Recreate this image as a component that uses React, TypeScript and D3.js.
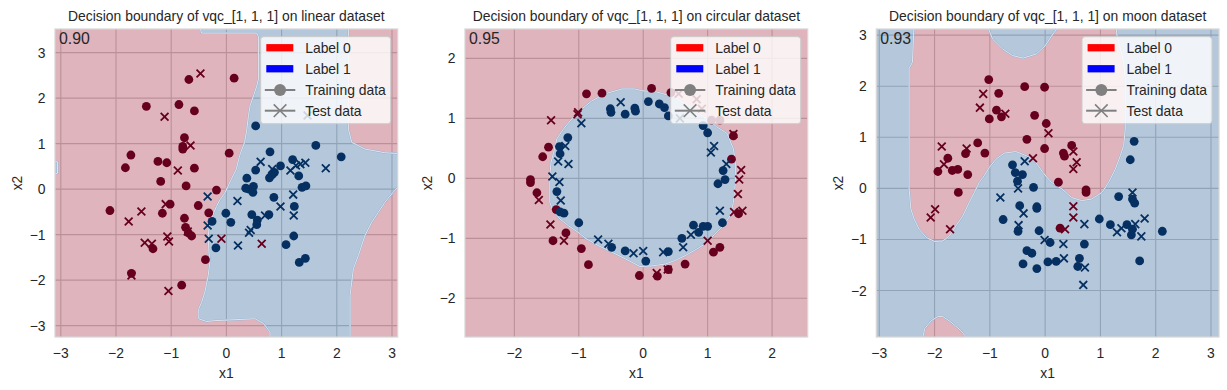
import React from "react";
import * as d3 from "d3";

type Pt = [number, number];

// ---------- linear dataset ----------
const linearTrain0: Pt[] = [
  [-0.68, 2.41], [0.14, 2.44], [-1.45, 1.82], [-0.86, 1.86], [-0.58, 1.72], [-0.76, 1.13],
  [-0.79, 0.94], [-0.79, 0.88], [0.05, 0.79], [-1.73, 0.75], [-1.83, 0.47], [-1.24, 0.61],
  [-1.08, 0.58], [-0.58, 0.46], [-1.19, 0.17], [-0.73, 0.07], [-0.18, -0.02], [-1.02, -0.33],
  [-1.16, -0.53], [-0.51, -0.36], [-0.32, -0.52], [-2.11, -0.47], [-0.76, -0.64], [-0.74, -0.84],
  [-0.69, -0.96], [-0.63, -1.03], [-1.33, -1.31], [-0.38, -1.55], [-1.72, -1.85], [-0.81, -2.11],
];
const linearTest0: Pt[] = [
  [-0.47, 2.54], [-1.12, 1.59], [-0.65, 0.96], [-0.88, 0.41], [-1.1, -0.33], [-1.54, -0.49],
  [-1.77, -0.71], [-1.48, -1.18], [-1.35, -1.2], [-1.07, -1.04], [-1.04, -1.15], [-0.7, -0.93],
  [-1.72, -1.9], [-1.05, -2.24], [-0.09, -1.09], [0.64, -1.2],
];
const linearTrain1: Pt[] = [
  [0.53, 1.39], [1.62, 0.96], [2.08, 0.71], [0.79, 0.82], [1.2, 0.65], [0.98, 0.51],
  [0.53, 0.42], [0.87, 0.37], [0.83, 0.32], [0.78, 0.25], [1.31, 0.29], [0.37, 0.24],
  [0.35, 0.02], [0.41, 0.0], [0.49, 0.06], [0.48, -0.07], [1.37, 0.04], [1.44, 0.07],
  [0.86, -0.18], [1.23, -0.38], [-0.01, -0.53], [0.08, -0.73], [0.46, -0.56], [0.56, -0.68],
  [0.55, -0.78], [0.77, -0.56], [1.22, -1.03], [1.08, -1.22], [1.32, -1.61], [1.43, -1.52],
  [-0.26, -0.71], [-0.19, -1.29],
];
const linearTest1: Pt[] = [
  [0.62, 0.6], [1.16, 0.41], [1.26, 0.52], [1.34, 0.55], [1.43, 0.58], [1.8, 0.46],
  [0.83, 0.44], [0.2, -0.26], [0.98, -0.38], [1.21, -0.12], [1.22, -0.58], [0.7, -0.58],
  [0.41, -0.96], [0.44, -0.9], [0.21, -1.24], [1.47, 1.62], [-0.34, -0.16], [-0.34, -0.8],
  [-0.32, -1.09],
];
// regions predicted as label 1
const linearRegions: Pt[][] = [
  [
    [-0.49, 3.6], [-0.45, 3.43], [0.55, 3.43], [0.58, 3.35], [0.58, 2.42], [0.55, 2.27],
    [0.49, 2.05], [0.43, 1.84], [0.4, 1.62], [0.37, 1.32], [0.33, 1.03], [0.24, 0.74],
    [0.18, 0.44], [0.09, 0.22], [-0.03, -0.09], [-0.12, -0.24], [-0.18, -0.38], [-0.24, -0.55],
    [-0.3, -0.73], [-0.33, -1.02], [-0.32, -1.31], [-0.3, -1.61], [-0.33, -1.9], [-0.39, -2.26],
    [-0.45, -2.49], [-0.5, -2.63], [-0.5, -2.85], [-0.36, -2.91], [-0.21, -2.89], [0.52, -2.85],
    [0.67, -2.95], [0.79, -3.14], [0.79, -3.4], [2.24, -3.4], [2.24, -2.34], [2.3, -1.75],
    [2.39, -1.46], [2.51, -1.02], [2.63, -0.73], [2.75, -0.51], [2.87, -0.29], [3.02, -0.07],
    [3.14, 0.09], [3.3, 0.1], [3.3, 0.77], [2.87, 0.8], [2.51, 0.88], [2.27, 1.03],
    [2.21, 1.32], [2.21, 3.6],
  ],
  [[-3.3, 0.66], [-3.06, 0.6], [-3.06, 0.35], [-3.3, 0.29]],
];

// ---------- circular dataset ----------
const circTrain0: Pt[] = [
  [-0.88, 1.41], [-0.64, 1.42], [0.13, 1.5], [0.43, 1.43], [-1.47, 0.52], [-1.56, 0.36],
  [-1.75, -0.02], [-1.75, -0.07], [-1.65, -0.24], [-1.35, -0.52], [-1.2, -0.91], [-1.4, -1.04],
  [-0.96, -1.17], [-0.85, -1.44], [-0.06, -1.62], [0.22, -1.63], [0.39, -1.52], [0.65, -1.43],
  [1.09, -1.23], [1.19, -1.15], [1.48, -0.59], [1.37, 0.32], [1.4, 0.71], [1.06, 0.97], [1.19, 0.97],
];
const circTest0: Pt[] = [
  [-1.01, 1.1], [-1.02, 1.07], [-1.43, 0.97], [-1.62, -0.36], [-1.44, -0.77], [-1.23, -1.04],
  [0.21, -1.58], [0.38, -1.52], [1.0, -1.04], [1.4, 0.74], [1.52, 0.14], [1.49, -0.02],
  [1.47, -0.26], [1.41, -0.56], [1.54, -0.54], [0.55, 1.41], [0.83, 1.32], [0.91, 1.16],
];
const circTrain1: Pt[] = [
  [-0.51, 1.16], [-0.5, 1.1], [-0.28, 1.07], [-0.13, 1.17], [-0.12, 1.12], [0.08, 1.28],
  [0.25, 1.24], [0.33, 1.18], [0.39, 1.04], [0.93, 0.88], [1.0, 0.76], [-1.17, 0.68],
  [-1.3, 0.53], [-1.29, 0.41], [-1.34, -0.22], [-1.23, -0.58], [-1.29, -0.56], [-1.0, -0.74],
  [-0.49, -1.15], [-0.28, -1.21], [0.04, -1.38], [0.39, -1.22], [0.6, -1.0], [0.78, -0.78],
  [0.86, -0.9], [0.93, -0.8], [1.0, -0.8], [1.23, -0.74], [1.16, -0.09], [1.27, -0.02], [1.24, 0.13],
];
const circTest1: Pt[] = [
  [-0.35, 1.27], [-0.96, 0.92], [-1.21, 0.54], [-1.32, 0.28], [-1.16, 0.24], [-1.41, 0.03],
  [-1.3, -0.06], [-1.28, -0.37], [-0.7, -1.02], [-0.54, -1.09], [-0.15, -1.25], [0.0, -1.21],
  [0.31, -1.23], [0.62, -1.15], [0.74, -0.94], [1.19, -0.54], [1.29, 0.24], [1.1, 0.54],
  [1.05, 0.43], [0.57, 1.0],
];
const circRegions: Pt[][] = [
  [
    [-0.33, 1.49], [-0.13, 1.49], [-0.02, 1.46], [0.21, 1.44], [0.47, 1.36], [0.73, 1.19],
    [0.93, 1.03], [1.14, 0.86], [1.3, 0.75], [1.4, 0.49], [1.43, 0.27], [1.43, -0.07],
    [1.4, -0.4], [1.35, -0.62], [1.24, -0.79], [1.11, -0.93], [0.99, -1.07], [0.83, -1.18],
    [0.65, -1.29], [0.49, -1.37], [0.34, -1.43], [0.13, -1.46], [-0.05, -1.47], [-0.28, -1.34],
    [-0.49, -1.23], [-0.7, -1.12], [-0.88, -1.01], [-1.01, -0.9], [-1.16, -0.79], [-1.29, -0.68],
    [-1.4, -0.54], [-1.45, -0.4], [-1.45, 0.04], [-1.43, 0.27], [-1.39, 0.43], [-1.34, 0.66],
    [-1.24, 0.82], [-1.11, 0.99], [-0.95, 1.16], [-0.8, 1.29], [-0.59, 1.41],
  ],
];

// ---------- moon dataset ----------
const moonTrain0: Pt[] = [
  [-1.02, 2.13], [-0.84, 1.86], [-0.37, 1.99], [-0.01, 1.98], [-0.88, 1.53], [-0.79, 1.4],
  [-1.01, 1.36], [-0.19, 1.43], [0.02, 1.27], [-0.33, 0.96], [-0.01, 0.78], [0.48, 0.84],
  [0.33, 0.69], [0.35, 0.63], [-1.22, 0.89], [-1.09, 0.69], [-1.44, 0.68], [-1.76, 0.59],
  [-1.94, 0.33], [-1.68, 0.35], [-1.58, 0.37], [-1.4, 0.27], [-1.57, -0.08], [0.24, 0.12],
  [0.74, -0.03], [0.74, -0.08], [0.27, -0.78],
];
const moonTest0: Pt[] = [
  [-1.12, 1.85], [-1.18, 1.58], [-0.72, 1.46], [0.06, 1.08], [-1.87, 0.82], [-1.42, 0.78],
  [-1.83, 0.47], [-0.22, 0.59], [0.51, 0.72], [0.57, 0.51], [0.51, 0.38], [-1.99, -0.41],
  [-2.07, -0.57], [-1.72, -0.8], [0.51, -0.35], [0.51, -0.57], [0.36, -0.8],
];
const moonTrain1: Pt[] = [
  [-0.59, 0.46], [-0.54, 0.31], [-0.41, 0.27], [-0.5, 0.14], [-0.21, 0.02], [-0.46, -0.34],
  [-0.15, -0.36], [-0.15, -0.39], [-0.76, -0.61], [-0.49, -0.84], [-0.11, -0.83], [-0.33, -1.22],
  [-0.24, -1.27], [-0.4, -1.48], [-0.15, -1.57], [0.05, -1.44], [0.2, -1.43], [0.09, -1.06],
  [0.62, -1.37], [0.59, -1.53], [0.71, -1.09], [0.98, -0.6], [1.18, -0.71], [1.33, -0.16],
  [1.61, 0.92], [1.54, 0.56], [1.58, -0.21], [1.62, -0.29], [1.48, -0.71], [1.58, -0.8],
  [1.56, -0.91], [2.12, -0.84], [1.71, -1.42],
];
const moonTest1: Pt[] = [
  [-0.37, 0.53], [-0.49, 0.0], [-0.81, -0.18], [-0.39, -0.49], [-0.48, -0.72], [-0.01, -1.01],
  [0.33, -1.09], [0.34, -1.37], [0.71, -0.7], [0.72, -1.55], [0.69, -1.89], [1.58, -0.08],
  [1.3, -0.86], [1.38, -0.78], [1.63, -0.7], [1.8, -0.59], [1.74, -0.94],
];
// regions predicted as label 0
const moonRegions: Pt[][] = [
  [
    [-2.37, 3.25], [-2.38, 2.99], [-2.4, 2.47], [-2.46, 2.35], [-2.46, -0.01], [-2.43, -0.4],
    [-2.37, -0.6], [-2.28, -0.8], [-2.15, -0.96], [-2.0, -1.04], [-1.85, -1.03], [-1.73, -0.93],
    [-1.61, -0.73], [-1.49, -0.54], [-1.37, -0.27], [-1.28, -0.08], [-1.19, 0.12], [-1.1, 0.25],
    [-1.01, 0.41], [-0.89, 0.57], [-0.74, 0.69], [-0.53, 0.72], [-0.34, 0.64], [-0.19, 0.54],
    [-0.04, 0.31], [0.11, 0.12], [0.3, -0.01], [0.48, -0.18], [0.66, -0.24], [0.84, -0.21],
    [1.03, -0.08], [1.15, 0.12], [1.27, 0.38], [1.36, 0.64], [1.42, 0.84], [1.45, 1.16],
    [1.45, 2.14], [1.42, 2.47], [1.3, 2.99], [1.27, 3.25], [0.3, 3.25], [0.12, 2.99],
    [0.0, 2.79], [-0.16, 2.63], [-0.4, 2.55], [-0.59, 2.6], [-0.77, 2.73], [-0.95, 2.92],
    [-1.07, 3.25],
  ],
  [
    [-2.25, -3.1], [-2.21, -2.91], [-2.18, -2.75], [-2.06, -2.59], [-1.94, -2.51], [-1.85, -2.51],
    [-1.7, -2.62], [-1.52, -2.79], [-1.43, -2.91], [-1.41, -3.1],
  ],
];

const ticks3 = [-3, -2, -1, 0, 1, 2, 3];
const ticks2 = [-2, -1, 0, 1, 2];
const moonYTicks = [-2, -1, 0, 1, 2, 3];

const legendLabels = ["Label 0", "Label 1", "Training data", "Test data"];

// ---------- look ----------
const PLOT_TOP = 29;
const PLOT_BOTTOM = 337;
const PLOT_W = 342.7;
const FONT = '"Liberation Sans", Arial, Helvetica, sans-serif';
const TEXT = "#262626";
const DARK0 = "#67001f";
const DARK1 = "#053061";
const FILL0 = "rgb(150,8,34)";
const FILL1 = "rgb(10,72,136)";

interface PanelCfg {
  id: string;
  title: string;
  acc: string;
  left: number;
  xDomain: [number, number];
  yDomain: [number, number];
  xTicks: number[];
  yTicks: number[];
  regionLabel: 0 | 1;
  regions: Pt[][];
  train0: Pt[];
  train1: Pt[];
  test0: Pt[];
  test1: Pt[];
}

const panels: PanelCfg[] = [
  {
    id: "linear", title: "Decision boundary of vqc_[1, 1, 1] on linear dataset", acc: "0.90",
    left: 55, xDomain: [-3.105, 3.103], yDomain: [-3.25, 3.52], xTicks: ticks3, yTicks: ticks3,
    regionLabel: 1, regions: linearRegions,
    train0: linearTrain0, train1: linearTrain1, test0: linearTest0, test1: linearTest1,
  },
  {
    id: "circular", title: "Decision boundary of vqc_[1, 1, 1] on circular dataset", acc: "0.95",
    left: 465, xDomain: [-2.766, 2.553], yDomain: [-2.645, 2.49], xTicks: ticks2, yTicks: ticks2,
    regionLabel: 1, regions: circRegions,
    train0: circTrain0, train1: circTrain1, test0: circTest0, test1: circTest1,
  },
  {
    id: "moon", title: "Decision boundary of vqc_[1, 1, 1] on moon dataset", acc: "0.93",
    left: 876.3, xDomain: [-3.054, 3.145], yDomain: [-2.91, 3.12], xTicks: ticks3, yTicks: moonYTicks,
    regionLabel: 0, regions: moonRegions,
    train0: moonTrain0, train1: moonTrain1, test0: moonTest0, test1: moonTest1,
  },
];

const Cross = ({ x, y, r, color, sw }: { x: number; y: number; r: number; color: string; sw: number }) => (
  <path
    d={`M${x - r},${y - r}L${x + r},${y + r}M${x - r},${y + r}L${x + r},${y - r}`}
    stroke={color}
    strokeWidth={sw}
    fill="none"
  />
);

const Legend = ({ right }: { right: number }) => {
  const w = 130;
  const h = 87;
  const lx = right - 7 - w;
  const ly = 36.7;
  const rows = [11, 32, 53.3, 74];
  const hx0 = lx + 5.6;
  const hx1 = hx0 + 27.5;
  const hmid = (hx0 + hx1) / 2;
  return (
    <g>
      <rect x={lx} y={ly} width={w} height={h} rx={3} fill="#fff" fillOpacity={0.8} stroke="#cccccc" strokeWidth={1} />
      <rect x={hx0} y={ly + rows[0] - 3.6} width={27} height={7.3} fill="#ff0000" />
      <rect x={hx0} y={ly + rows[1] - 3.6} width={27} height={7.3} fill="#0000ff" />
      <line x1={hx0 - 1.5} x2={hx1 + 1.5} y1={ly + rows[2]} y2={ly + rows[2]} stroke="#808080" strokeWidth={2} />
      <circle cx={hmid} cy={ly + rows[2]} r={6} fill="#808080" />
      <line x1={hx0 - 1.5} x2={hx1 + 1.5} y1={ly + rows[3]} y2={ly + rows[3]} stroke="#808080" strokeWidth={2} />
      <Cross x={hmid} y={ly + rows[3]} r={6.3} color="#808080" sw={1.6} />
      {legendLabels.map((t, i) => (
        <text key={t} x={hx0 + 38.9} y={ly + rows[i] + 4.9} fontSize={13.9} fill={TEXT} fontFamily={FONT}>
          {t}
        </text>
      ))}
    </g>
  );
};

const Panel = ({ p }: { p: PanelCfg }) => {
  const right = p.left + PLOT_W;
  const x = d3.scaleLinear().domain(p.xDomain).range([p.left, right]);
  const y = d3.scaleLinear().domain(p.yDomain).range([PLOT_BOTTOM, PLOT_TOP]);
  const line = d3.line<Pt>().x((d) => x(d[0])).y((d) => y(d[1]));
  const regionPath = p.regions.map((r) => line(r) + "Z").join("");
  const rectPath = `M${p.left},${PLOT_TOP}H${right}V${PLOT_BOTTOM}H${p.left}Z`;
  const bg = p.regionLabel === 1 ? FILL0 : FILL1;
  const fg = p.regionLabel === 1 ? FILL1 : FILL0;
  const fmt = d3.format("d");
  const cx = (p.left + right) / 2;
  const cy = (PLOT_TOP + PLOT_BOTTOM) / 2;
  const clipId = `clip-${p.id}`;

  return (
    <g>
      <defs>
        <clipPath id={clipId}>
          <rect x={p.left} y={PLOT_TOP} width={PLOT_W} height={PLOT_BOTTOM - PLOT_TOP} />
        </clipPath>
      </defs>
      <rect x={p.left} y={PLOT_TOP} width={PLOT_W} height={PLOT_BOTTOM - PLOT_TOP} fill="#fff" />
      <g clipPath={`url(#${clipId})`}>
        {p.xTicks.map((t) => (
          <line key={"gx" + t} x1={x(t)} x2={x(t)} y1={PLOT_TOP} y2={PLOT_BOTTOM} stroke="#cccccc" strokeWidth={1.1} />
        ))}
        {p.yTicks.map((t) => (
          <line key={"gy" + t} x1={p.left} x2={right} y1={y(t)} y2={y(t)} stroke="#cccccc" strokeWidth={1.1} />
        ))}
        <path d={rectPath + regionPath} fill={bg} fillOpacity={0.3} fillRule="evenodd" />
        <path d={regionPath} fill={fg} fillOpacity={0.3} />
        <path d={regionPath} fill="none" stroke="#93b3d3" strokeWidth={1.8} strokeLinejoin="round" />
        <path d={regionPath} fill="none" stroke="#f7eff1" strokeWidth={0.8} strokeLinejoin="round" />
        {p.train0.map((d, i) => (
          <circle key={"a" + i} cx={x(d[0])} cy={y(d[1])} r={4.4} fill={DARK0} />
        ))}
        {p.train1.map((d, i) => (
          <circle key={"b" + i} cx={x(d[0])} cy={y(d[1])} r={4.4} fill={DARK1} />
        ))}
        {p.test0.map((d, i) => (
          <Cross key={"c" + i} x={x(d[0])} y={y(d[1])} r={3.9} color={DARK0} sw={1.8} />
        ))}
        {p.test1.map((d, i) => (
          <Cross key={"d" + i} x={x(d[0])} y={y(d[1])} r={3.9} color={DARK1} sw={1.8} />
        ))}
      </g>
      <rect x={p.left} y={PLOT_TOP} width={PLOT_W} height={PLOT_BOTTOM - PLOT_TOP} fill="none" stroke="#d6d6d6" strokeWidth={1.2} />
      <text x={p.left + 4} y={44} fontSize={15.8} fill={TEXT} fontFamily={FONT}>
        {p.acc}
      </text>
      <Legend right={right} />
      {p.xTicks.map((t) => (
        <text key={"tx" + t} x={x(t)} y={357.5} fontSize={13.9} fill={TEXT} fontFamily={FONT} textAnchor="middle">
          {fmt(t)}
        </text>
      ))}
      {p.yTicks.map((t) => (
        <text key={"ty" + t} x={p.left - 9.5} y={y(t) + 5} fontSize={13.9} fill={TEXT} fontFamily={FONT} textAnchor="end">
          {fmt(t)}
        </text>
      ))}
      <text x={cx} y={378} fontSize={13.9} fill={TEXT} fontFamily={FONT} textAnchor="middle">
        x1
      </text>
      <text
        transform={`translate(${p.left - 33.5},${cy}) rotate(-90)`}
        fontSize={13.9}
        fill={TEXT}
        fontFamily={FONT}
        textAnchor="middle"
      >
        x2
      </text>
      <text x={cx} y={21} fontSize={13.9} fill={TEXT} fontFamily={FONT} textAnchor="middle">
        {p.title}
      </text>
    </g>
  );
};

export default function App() {
  return (
    <svg width={1227} height={390} style={{ display: "block", position: "absolute", left: 0, top: 0 }}>
      <rect width={1227} height={390} fill="#fff" />
      {panels.map((p) => (
        <Panel key={p.id} p={p} />
      ))}
    </svg>
  );
}
